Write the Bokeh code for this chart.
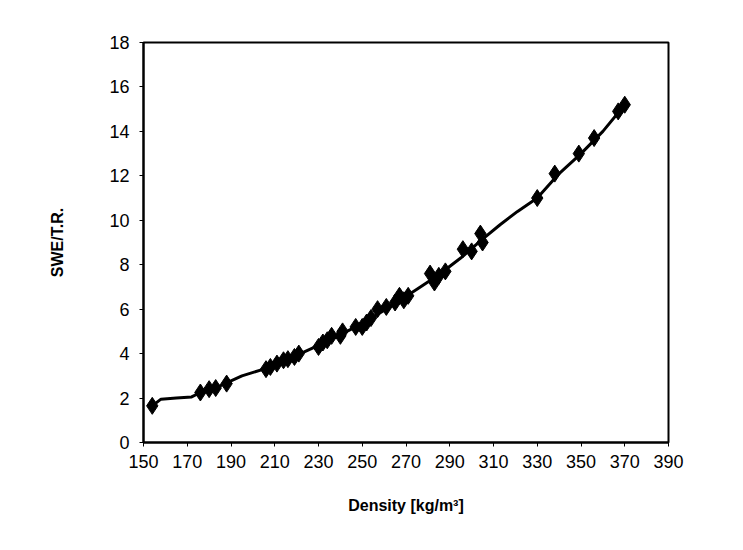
from bokeh.plotting import figure
from bokeh.embed import file_html
from bokeh.resources import INLINE
from bokeh.models import Range1d, FixedTicker

# measured points (density kg/m3, SWE/T.R.)
density = [154, 176, 180, 183, 188, 206, 208, 211, 214, 216, 219, 221,
           230, 232, 234, 236, 240, 241, 247, 250, 252, 254, 257, 261,
           265, 267, 269, 271, 281, 283, 285, 288, 296, 300, 304, 305,
           330, 338, 349, 356, 367, 370]
swe_tr = [1.65, 2.25, 2.4, 2.45, 2.65, 3.3, 3.4, 3.55, 3.7, 3.75, 3.85, 4.0,
          4.3, 4.5, 4.6, 4.8, 4.8, 5.0, 5.2, 5.2, 5.4, 5.6, 6.0, 6.1,
          6.3, 6.6, 6.4, 6.6, 7.6, 7.2, 7.5, 7.7, 8.7, 8.6, 9.4, 9.0,
          11.0, 12.1, 13.0, 13.7, 14.9, 15.2]

# smoothed curve
curve_x = [154, 158, 165, 172, 176, 185, 195, 205, 215, 225, 235, 245, 255,
           265, 275, 285, 295, 305, 313, 321, 330, 340, 350, 360, 370]
curve_y = [1.65, 1.95, 2.0, 2.05, 2.25, 2.55, 3.0, 3.3, 3.7, 4.15, 4.6, 5.1,
           5.65, 6.25, 6.9, 7.55, 8.3, 9.15, 9.8, 10.4, 11.0, 12.1, 13.0,
           14.0, 15.2]

x_ticks = list(range(150, 391, 20))
y_ticks = list(range(0, 19, 2))

p = figure(width=727, height=534, output_backend="svg", toolbar_location=None,
           x_range=Range1d(150, 390), y_range=Range1d(0, 18),
           min_border_left=143, min_border_right=59, min_border_top=42,
           min_border_bottom=92)

p.xgrid.visible = False
p.ygrid.visible = False
p.outline_line_color = "black"
p.outline_line_width = 2
p.background_fill_color = "white"
p.border_fill_color = "white"

p.line(curve_x, curve_y, line_color="black", line_width=3)
p.scatter(density, swe_tr, marker="diamond", size=17, fill_color="black",
          line_color="black")

for ax in (p.xaxis[0], p.yaxis[0]):
    ax.axis_line_color = "black"
    ax.axis_line_width = 2
    ax.major_tick_in = 0
    ax.major_tick_out = 4
    ax.minor_tick_out = 0
    ax.minor_tick_in = 0
    ax.major_label_text_font = "Liberation Sans"
    ax.major_label_text_font_size = "18px"
    ax.major_label_text_color = "black"
    ax.axis_label_text_font = "Liberation Sans"
    ax.axis_label_text_font_size = "16px"
    ax.axis_label_text_font_style = "bold"
    ax.axis_label_text_color = "black"

p.xaxis.ticker = FixedTicker(ticks=x_ticks)
p.yaxis.ticker = FixedTicker(ticks=y_ticks)
p.xaxis.axis_label = "Density [kg/m³]"
p.yaxis.axis_label = "SWE/T.R."
p.xaxis.major_label_standoff = 8
p.yaxis.major_label_standoff = 10
p.xaxis.axis_label_standoff = 26
p.yaxis.axis_label_standoff = 40

open("out.html", "w").write(file_html(p, INLINE))
